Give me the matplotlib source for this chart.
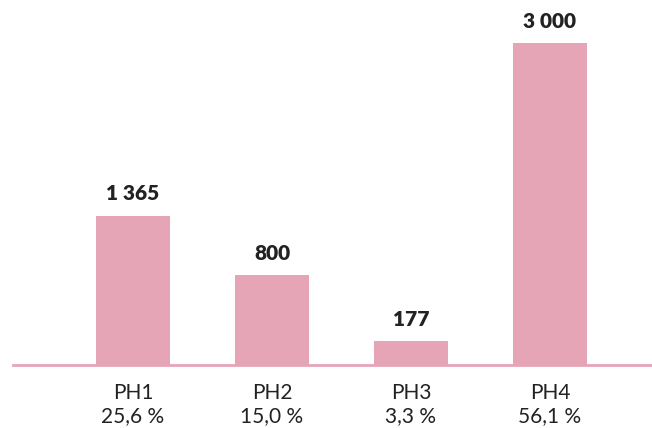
import matplotlib
matplotlib.use("Agg")
import matplotlib.pyplot as plt

categories = ["PH1", "PH2", "PH3", "PH4"]
values = [1365, 800, 177, 3000]
shares = ["25,6 %", "15,0 %", "3,3 %", "56,1 %"]
value_labels = ["1 365", "800", "177", "3 000"]

bar_color = "#e6a4b7"
text_color = "#222222"

base = -42.6  # baseline drawn slightly below zero, bars reach down to it

fig = plt.figure(figsize=(6.52, 4.28), dpi=100)
ax = fig.add_axes([13 / 652, (428 - 364.5) / 428, 639 / 652, 364.5 / 428])

x = list(range(len(categories)))
ax.bar(x, [v - base for v in values], bottom=base, width=0.532,
       color=bar_color, zorder=2)
ax.set_xlim(-0.863, 3.734)
ax.set_ylim(base, 3407)

for xi, v, lab in zip(x, values, value_labels):
    ax.annotate(lab, (xi, v), xytext=(0, 9), textcoords="offset points",
                ha="center", va="bottom", fontsize=15, fontweight="heavy",
                family="Lato", color=text_color)

ax.set_xticks(x)
ax.set_xticklabels([f"{c}\n{s}" for c, s in zip(categories, shares)],
                   fontsize=15, family="Lato", color=text_color, linespacing=1.22)
ax.tick_params(axis="x", length=0, pad=13)
ax.set_yticks([])
for s in ["top", "right", "left"]:
    ax.spines[s].set_visible(False)
ax.spines["bottom"].set_color(bar_color)
ax.spines["bottom"].set_linewidth(2)
ax.spines["bottom"].set_zorder(3)

fig.savefig("out.png", dpi=100)
